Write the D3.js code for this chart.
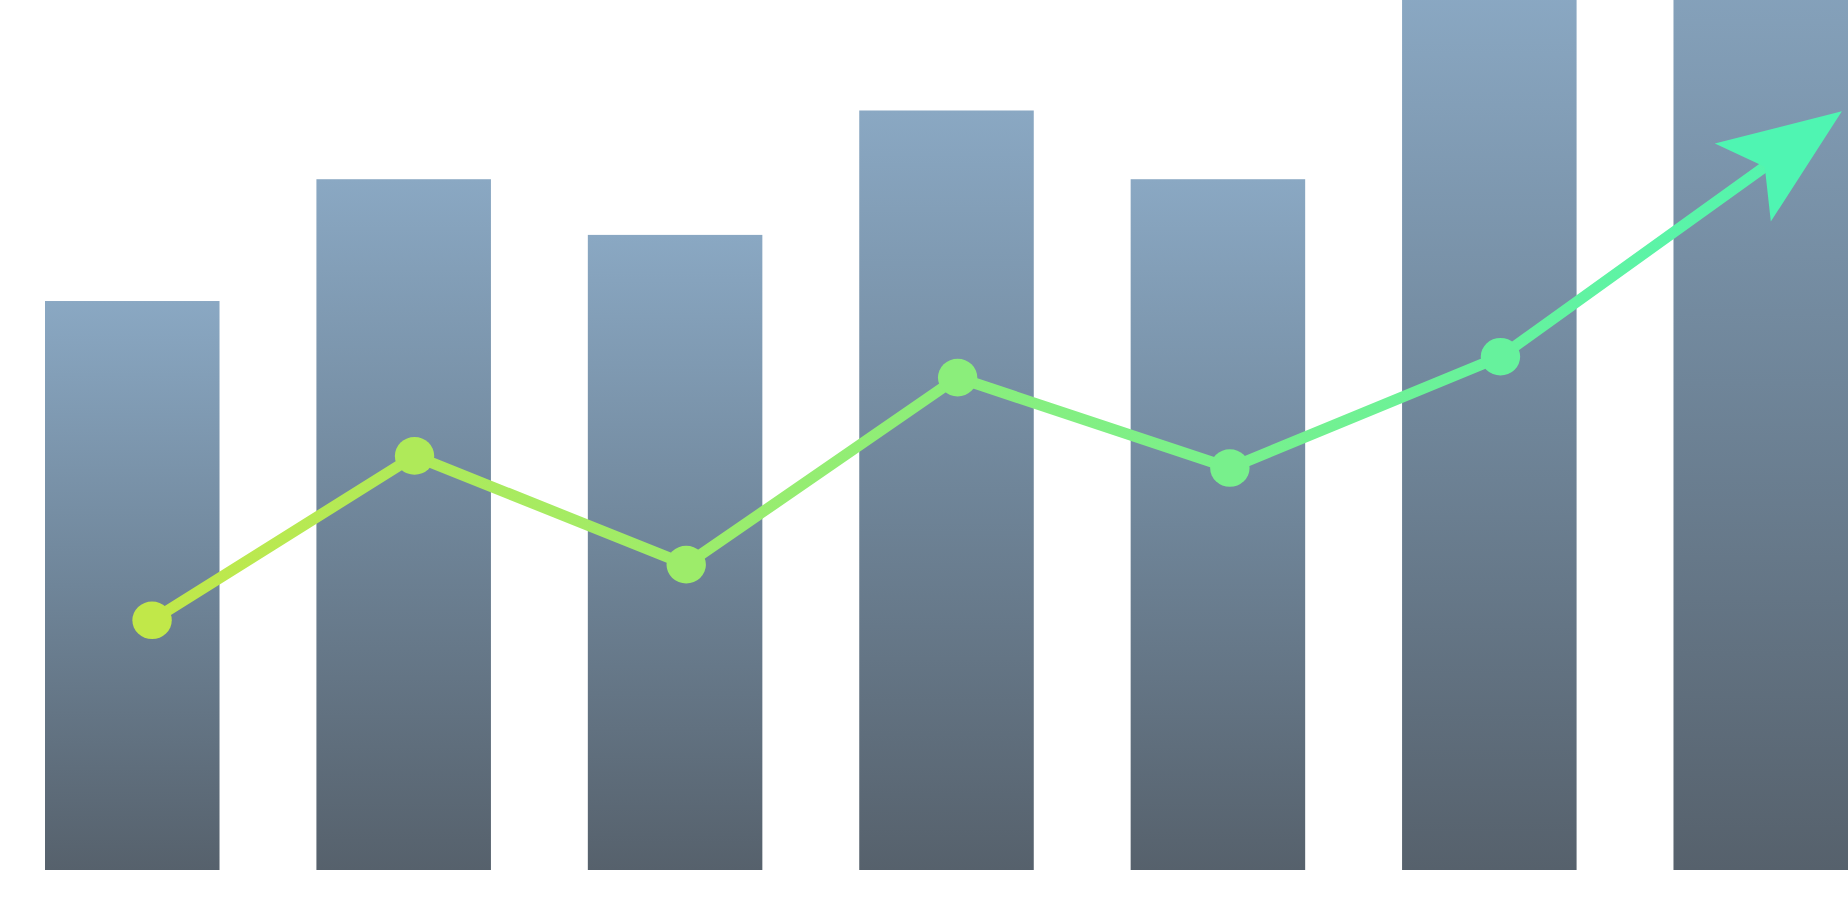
<!DOCTYPE html>
<html>
<head>
<meta charset="utf-8">
<script src="https://cdn.jsdelivr.net/npm/d3@7"></script>
<style>
  html, body { margin: 0; padding: 0; background: #ffffff; overflow: hidden; }
  svg { display: block; }
</style>
</head>
<body>
<svg id="chart" width="1848" height="918"></svg>
<script>
// ---- data ----
const categories = ["1", "2", "3", "4", "5", "6", "7"];
const barValues  = [65.4, 79.4, 73.0, 87.3, 79.4, 101, 112];
// trend line: position along categories (index units) and value
const linePos    = [0.073, 1.040, 2.041, 3.041, 4.044, 5.041, 6.299];
const lineValues = [28.7, 47.6, 35.1, 56.6, 46.2, 59.0, 87.2];
const yTicks     = [0, 100];

// ---- layout ----
const W = 1848, H = 918;
const baseY = 870;
const svg = d3.select("#chart");

const x = d3.scaleBand()
  .domain(categories)
  .range([45, 1848])
  .paddingInner(0.357)
  .paddingOuter(0);

const y = d3.scaleLinear()
  .domain(d3.extent(yTicks))
  .range([baseY, 0]);

const xIdx = d3.scaleLinear()
  .domain([0, categories.length - 1])
  .range([x(categories[0]) + x.bandwidth() / 2,
          x(categories[categories.length - 1]) + x.bandwidth() / 2]);

const defs = svg.append("defs");

// bar gradient (per bar, top light -> bottom dark)
const bg = defs.append("linearGradient")
  .attr("id", "barGrad")
  .attr("x1", 0).attr("y1", 0).attr("x2", 0).attr("y2", 1);
bg.append("stop").attr("offset", "0%").attr("stop-color", "#8aa8c3");
bg.append("stop").attr("offset", "50%").attr("stop-color", "#6f8599");
bg.append("stop").attr("offset", "100%").attr("stop-color", "#56616c");

const barData = categories.map((c, i) => ({ c, v: barValues[i] }));
svg.append("g")
  .selectAll("rect")
  .data(barData)
  .join("rect")
  .attr("x", d => x(d.c))
  .attr("width", x.bandwidth())
  .attr("y", d => y(d.v))
  .attr("height", d => baseY - y(d.v))
  .attr("fill", "url(#barGrad)");

// line
const pts = linePos.map((p, i) => [xIdx(p), y(lineValues[i])]);
const x0 = pts[0][0], x1 = pts[pts.length - 1][0];
const colStart = "#c1e849", colEnd = "#4ff5b2";
const colAt = px => d3.interpolateRgb(colStart, colEnd)((px - x0) / (x1 - x0));

const lg = defs.append("linearGradient")
  .attr("id", "lineGrad")
  .attr("gradientUnits", "userSpaceOnUse")
  .attr("x1", x0).attr("y1", 0).attr("x2", x1).attr("y2", 0);
lg.append("stop").attr("offset", "0%").attr("stop-color", colStart);
lg.append("stop").attr("offset", "100%").attr("stop-color", colEnd);

// arrow head geometry
const tip = pts[pts.length - 1];
const prev = pts[pts.length - 2];
const dx = tip[0] - prev[0], dy = tip[1] - prev[1];
const len = Math.hypot(dx, dy);
const ux = dx / len, uy = dy / len;
const nx = -uy, ny = ux;
const headLen = 122, headHalf = 48, notch = 95;
const notchPt = [tip[0] - ux * notch, tip[1] - uy * notch];
const wingA = [tip[0] - ux * headLen + nx * headHalf, tip[1] - uy * headLen + ny * headHalf];
const wingB = [tip[0] - ux * headLen - nx * headHalf, tip[1] - uy * headLen - ny * headHalf];

const linePts = pts.slice(0, -1).concat([[notchPt[0] + ux * 4, notchPt[1] + uy * 4]]);

svg.append("path")
  .datum(linePts)
  .attr("d", d3.line())
  .attr("fill", "none")
  .attr("stroke", "url(#lineGrad)")
  .attr("stroke-width", 11)
  .attr("stroke-linejoin", "round");

svg.append("path")
  .attr("d", d3.line()([tip, wingA, notchPt, wingB]) + "Z")
  .attr("fill", colEnd);

// markers
svg.append("g")
  .selectAll("ellipse")
  .data(pts.slice(0, -1))
  .join("ellipse")
  .attr("cx", d => d[0])
  .attr("cy", d => d[1])
  .attr("rx", 19.7)
  .attr("ry", 18.8)
  .attr("fill", d => colAt(d[0]));
</script>
</body>
</html>
